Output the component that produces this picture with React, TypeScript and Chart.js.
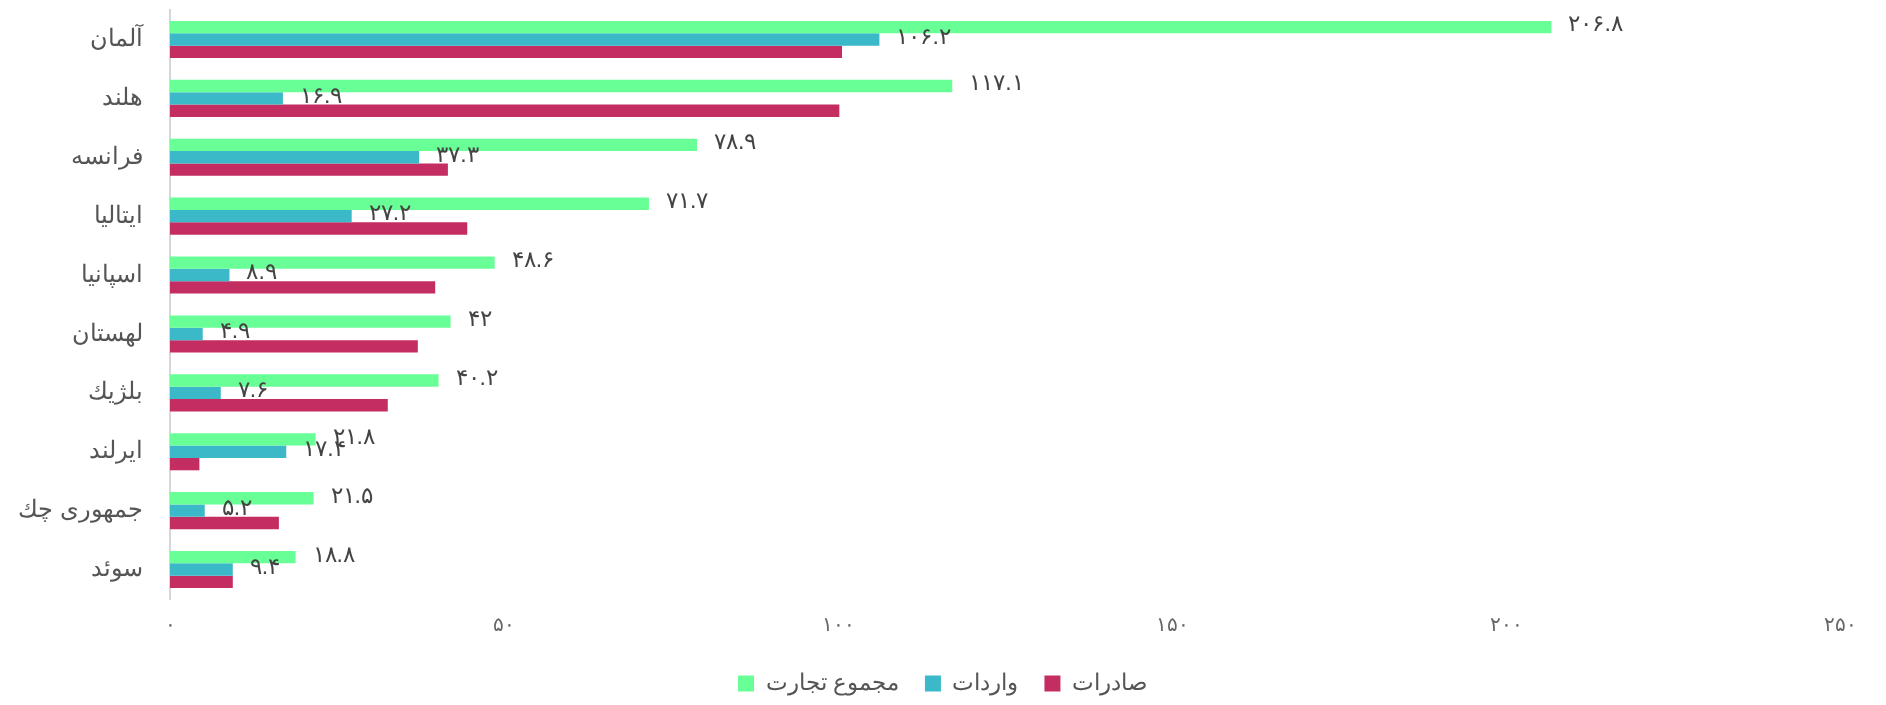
import React, { useEffect, useRef } from "react";
import { Chart, registerables } from "chart.js";

Chart.register(...registerables);

const categories = ["آلمان", "هلند", "فرانسه", "ایتالیا", "اسپانیا", "لهستان", "بلژیك", "ایرلند", "جمهوری چك", "سوئد"];
const totalTrade = [206.8, 117.1, 78.9, 71.7, 48.6, 42, 40.2, 21.8, 21.5, 18.8];
const importsValues = [106.2, 16.9, 37.3, 27.2, 8.9, 4.9, 7.6, 17.4, 5.2, 9.4];
const exportsValues = [100.6, 100.2, 41.6, 44.5, 39.7, 37.1, 32.6, 4.4, 16.3, 9.4];
const seriesNames = ["مجموع تجارت", "واردات", "صادرات"];
const xTicks = [0, 50, 100, 150, 200, 250];

const FONT = "'Helvetica Neue', 'Helvetica', 'Arial', sans-serif";

const toPersian = (v: number | string) =>
  String(v).replace(/[0-9]/g, (d) => "۰۱۲۳۴۵۶۷۸۹"[Number(d)]);

const labelPlugin = {
  id: "barValueLabels",
  afterDatasetsDraw(chart: any) {
    const ctx = chart.ctx;
    ctx.save();
    ctx.font = `23px ${FONT}`;
    ctx.fillStyle = "#444";
    ctx.textAlign = "left";
    ctx.textBaseline = "middle";
    [0, 1].forEach((di) => {
      const meta = chart.getDatasetMeta(di);
      const data = chart.data.datasets[di].data as number[];
      meta.data.forEach((el: any, i: number) => {
        ctx.fillText(toPersian(data[i]), el.x + 17, el.y - 2);
      });
    });
    ctx.restore();
  },
};

export default function App() {
  const ref = useRef<HTMLCanvasElement>(null);
  useEffect(() => {
    if (!ref.current) return;
    const chart = new Chart(ref.current, {
      type: "bar",
      data: {
        labels: categories,
        datasets: [
          { label: seriesNames[0], data: totalTrade, backgroundColor: "#69ff97" },
          { label: seriesNames[1], data: importsValues, backgroundColor: "#3bb9c8" },
          { label: seriesNames[2], data: exportsValues, backgroundColor: "#c42d62" },
        ],
      },
      options: {
        indexAxis: "y",
        animation: false,
        responsive: true,
        maintainAspectRatio: false,
        datasets: { bar: { categoryPercentage: 0.63, barPercentage: 1 } },
        layout: { padding: { top: 2, right: 0, left: 0, bottom: 0 } },
        scales: {
          x: {
            min: 0,
            max: 250,
            afterBuildTicks: (scale: any) => {
              scale.ticks = xTicks.map((v) => ({ value: v }));
            },
            afterFit: (scale: any) => {
              scale.height = 47;
              scale.paddingRight = 38;
            },
            grid: { display: false, drawTicks: false },
            border: { display: false },
            ticks: {
              padding: 14,
              color: "#666",
              font: { family: FONT, size: 20 },
              callback: (v: any) => toPersian(v),
            },
          },
          y: {
            grid: { display: false, drawTicks: false },
            border: { display: true, color: "#d6d6d6", width: 2 },
            afterFit: (scale: any) => {
              scale.width = 162;
              scale.paddingTop = 0;
              scale.paddingBottom = 0;
            },
            ticks: {
              padding: 27,
              color: "#555",
              font: { family: FONT, size: 24 },
            },
          },
        },
        plugins: {
          legend: {
            position: "bottom",
            labels: {
              boxWidth: 16,
              boxHeight: 16,
              padding: 26,
              color: "#555",
              font: { family: FONT, size: 23 },
            },
          },
          tooltip: { enabled: false },
        },
      },
      plugins: [labelPlugin],
    });
    return () => chart.destroy();
  }, []);
  return (
    <div style={{ position: "relative", width: "100%", height: 697, marginBottom: -8 }}>
      <canvas ref={ref} />
    </div>
  );
}
